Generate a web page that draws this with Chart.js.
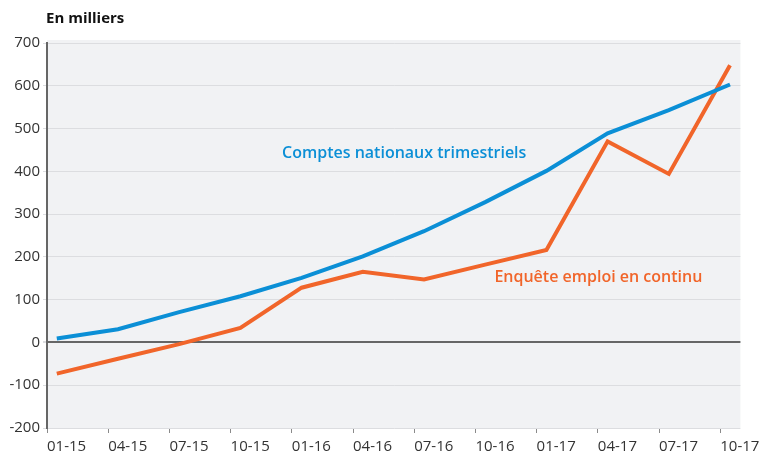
<!DOCTYPE html>
<html>
<head>
<meta charset="utf-8">
<script src="https://cdn.jsdelivr.net/npm/chart.js@4/dist/chart.umd.min.js"></script>
<style>
  html, body { margin: 0; padding: 0; background: #fff; }
  #wrap { width: 765px; height: 455px; }
</style>
</head>
<body>
<div id="wrap"><canvas id="emploi"></canvas></div>
<script>
// Trimestres (abscisse) et séries en milliers
const quarters = ["01-15", "04-15", "07-15", "10-15", "01-16", "04-16", "07-16", "10-16", "01-17", "04-17", "07-17", "10-17"];
const comptesNationaux = [9, 31, 71, 108, 151, 201, 260, 328, 401, 489, 543, 603];
const enqueteEmploi = [-73, -38, -4, 34, 128, 165, 147, 182, 216, 470, 394, 648];
const yTicks = [-200, -100, 0, 100, 200, 300, 400, 500, 600, 700];

const BLUE = "#0b8fd6";
const ORANGE = "#f1652a";
const FONT = "'Open Sans', 'Noto Sans', sans-serif";

// les points sont placés un peu après le repère du trimestre
const shift = 0.16;
const toPoints = (arr) => arr.map((v, i) => ({ x: i + shift, y: v }));

// fond gris de la zone de tracé + libellés des séries
const decor = {
    id: "decor",
    beforeDraw(chart) {
        const { ctx, chartArea: a } = chart;
        ctx.save();
        ctx.fillStyle = "#f1f2f4";
        ctx.fillRect(a.left, a.top - 3, a.right - a.left, a.bottom - a.top + 3);
        ctx.restore();
    },
    afterDraw(chart) {
        const { ctx, scales } = chart;
        ctx.save();
        ctx.textBaseline = "middle";
        ctx.textAlign = "left";
        ctx.font = "bold 15px " + FONT;
        ctx.fillStyle = "#111";
        ctx.fillText("En milliers", 46, 19);

        ctx.font = "600 16px " + FONT;
        ctx.fillStyle = BLUE;
        ctx.fillText("Comptes nationaux trimestriels", scales.x.getPixelForValue(3.84), scales.y.getPixelForValue(443));
        ctx.fillStyle = ORANGE;
        ctx.fillText("Enquête emploi en continu", scales.x.getPixelForValue(7.31), scales.y.getPixelForValue(153));
        ctx.restore();
    },
};

new Chart(document.getElementById("emploi"), {
    type: "line",
    data: {
        datasets: [
            {
                label: "Comptes nationaux trimestriels",
                data: toPoints(comptesNationaux),
                borderColor: BLUE,
                borderWidth: 4,
                pointRadius: 0,
                tension: 0,
            },
            {
                label: "Enquête emploi en continu",
                data: toPoints(enqueteEmploi),
                borderColor: ORANGE,
                borderWidth: 4,
                pointRadius: 0,
                tension: 0,
            },
        ],
    },
    options: {
        responsive: true,
        maintainAspectRatio: false,
        animation: false,
        layout: { padding: { top: 43, right: 22, left: 0, bottom: 0 } },
        scales: {
            x: {
                type: "linear",
                min: 0,
                max: 11.33,
                afterBuildTicks: (scale) => {
                    scale.ticks = quarters.map((q, i) => ({ value: i }));
                },
                afterFit: (scale) => { scale.height = 27; },
                ticks: {
                    autoSkip: false,
                    maxRotation: 0,
                    align: "start",
                    padding: 5,
                    color: "#333",
                    font: { family: FONT, size: 15 },
                    callback: (v) => quarters[v],
                },
                grid: { drawOnChartArea: false, drawTicks: true, tickLength: 5, color: "#8a8a8a" },
                border: { display: false },
            },
            y: {
                min: -200,
                max: 700,
                afterBuildTicks: (scale) => {
                    scale.ticks = yTicks.map((v) => ({ value: v }));
                },
                afterFit: (scale) => { scale.width = 47; },
                ticks: {
                    padding: 3,
                    color: "#333",
                    font: { family: FONT, size: 15 },
                },
                grid: {
                    color: (c) => (c.tick && c.tick.value === 0 ? "#666" : "#dcdde0"),
                    lineWidth: (c) => (c.tick && c.tick.value === 0 ? 2 : 1),
                    tickLength: 4,
                    tickColor: "#dcdde0",
                },
                border: { display: true, color: "#666", width: 2 },
            },
        },
        plugins: {
            legend: { display: false },
            tooltip: { enabled: false },
        },
    },
    plugins: [decor],
});
</script>
</body>
</html>
